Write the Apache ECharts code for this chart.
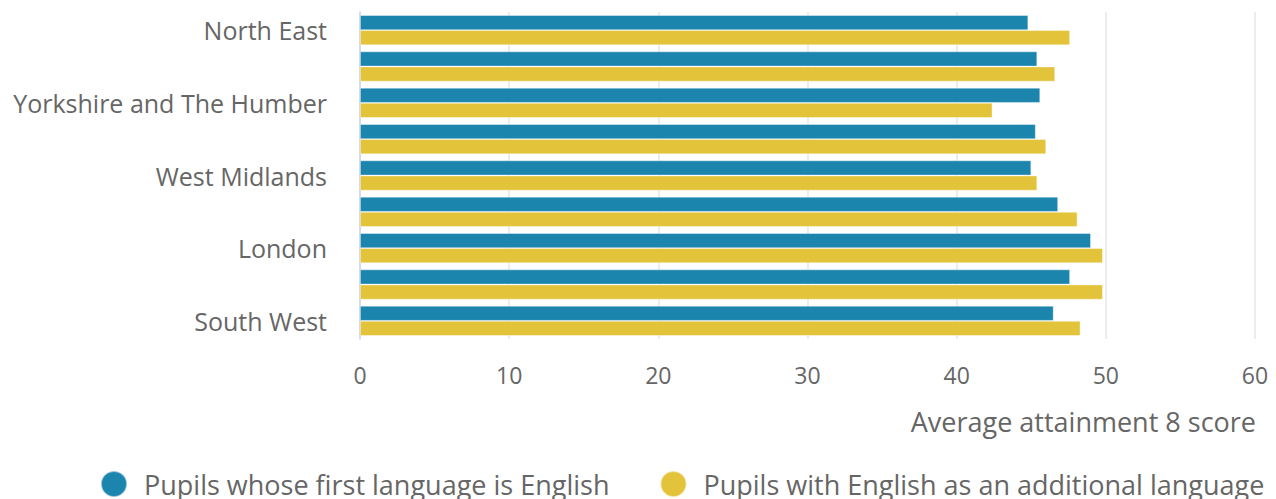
<!DOCTYPE html>
<html>
<head>
<meta charset="utf-8">
<script src="https://cdn.jsdelivr.net/npm/echarts@6/dist/echarts.min.js"></script>
<style>
html,body{margin:0;padding:0;background:#fff;}
#chart{width:1276px;height:499px;}
</style>
</head>
<body>
<div id="chart"></div>
<script>
const categories = ["North East","North West","Yorkshire and The Humber","East Midlands","West Midlands","East of England","London","South East","South West"];
const firstLanguageEnglish = [44.8, 45.4, 45.6, 45.3, 45.0, 46.8, 49.0, 47.6, 46.5];
const englishAdditional = [47.6, 46.6, 42.4, 46.0, 45.4, 48.1, 49.8, 49.8, 48.3];
const seriesNames = ["Pupils whose first language is English","Pupils with English as an additional language"];
const axisTitle = "Average attainment 8 score";

const FONT = "'Open Sans', sans-serif";
const chart = echarts.init(document.getElementById('chart'), null, {renderer:'svg'});
chart.setOption({
  animation:false,
  color:['#1b85ad','#e3c339'],
  textStyle:{fontFamily:FONT},
  title:{
    text:axisTitle, right:20, top:408, padding:0,
    textStyle:{fontFamily:FONT, fontSize:27, fontWeight:'normal', color:'#666'}
  },
  legend:{
    left:95, top:465, itemGap:50, icon:'circle', itemWidth:26, itemHeight:26,
    textStyle:{fontFamily:FONT, fontSize:27, color:'#666', padding:[0,0,0,12]},
    data:seriesNames
  },
  grid:{left:360, right:21, top:12, height:327, containLabel:false},
  xAxis:{
    type:'value', min:0, max:60, interval:10,
    axisLine:{show:false}, axisTick:{show:false},
    splitLine:{lineStyle:{color:'#e6e6e6', width:1.5}},
    axisLabel:{fontFamily:FONT, fontSize:23, color:'#666', margin:24}
  },
  yAxis:{
    type:'category', data:categories, inverse:true,
    axisLine:{lineStyle:{color:'#ccd6eb', width:1.5}},
    axisTick:{alignWithLabel:true, interval:1, length:20, lineStyle:{color:'#ccd6eb', width:1.5}},
    axisLabel:{interval:1, fontFamily:FONT, fontSize:25, color:'#666', margin:33}
  },
  series:[
    {name:seriesNames[0], type:'bar', data:firstLanguageEnglish, barGap:'0%', barCategoryGap:'17%',
     itemStyle:{borderColor:'rgba(255,255,255,0.5)', borderWidth:0.8}},
    {name:seriesNames[1], type:'bar', data:englishAdditional, barGap:'0%', barCategoryGap:'17%',
     itemStyle:{borderColor:'rgba(255,255,255,0.5)', borderWidth:0.8}}
  ]
});
</script>
</body>
</html>
